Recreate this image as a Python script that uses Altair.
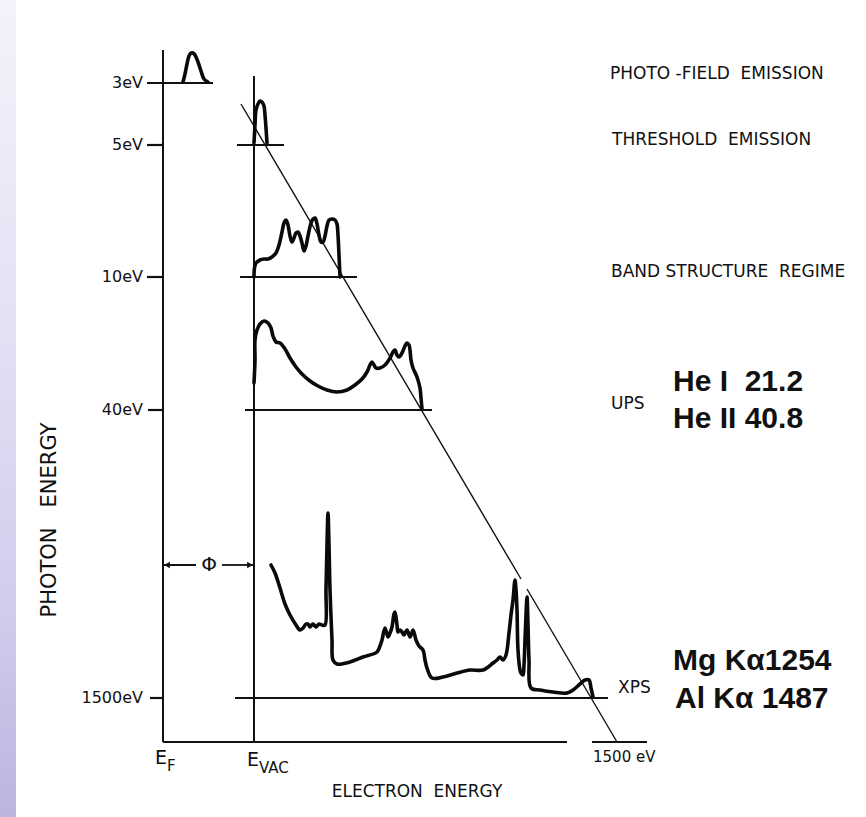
import altair as alt
import pandas as pd

# Diagram canvas units (x to the right, y downward)
W, H = 866, 817
NB = "\u00a0"  # non-breaking space keeps the wide gaps in the labels

# ---- traced spectra ----
pfe_x = [183, 185, 187, 189, 191, 193, 195, 198, 201, 204, 208]
pfe_y = [82, 74, 64, 56, 53, 53, 55, 62, 71, 79, 82]

thr_x = [254, 255, 256, 258, 260, 262, 264, 265, 266, 267]
thr_y = [143, 125, 110, 104, 101, 102, 106, 115, 128, 143]

band_x = [254, 254.5, 256, 260, 264, 268, 272, 276, 279, 282, 284, 286, 288, 290, 292, 294, 296, 298,
          300, 302, 304, 306, 308, 311, 313, 315, 317, 319, 321, 323, 325, 327, 329, 332, 335, 337,
          338, 339, 340]
band_y = [277, 268, 263, 260, 259, 259, 257, 253, 245, 232, 223, 220, 225, 236, 242, 238, 233, 232,
          236, 243, 251, 246, 236, 223, 219, 218, 224, 235, 242, 242, 236, 226, 220, 219, 220, 224,
          235, 255, 277]

ups_x = [254, 255, 255, 257, 260, 264, 268, 271, 273, 276, 280, 285, 290, 296, 302, 310, 318, 327,
         337, 347, 355, 362, 367, 370, 372, 374, 376, 380, 385, 390, 393, 395, 397, 399, 402, 405,
         407, 409, 410, 411, 413, 417, 420, 421, 422]
ups_y = [383, 360, 340, 330, 324, 321, 323, 328, 336, 342, 343, 349, 358, 367, 374, 381, 386, 390,
         392, 390, 385, 379, 372, 365, 362, 365, 368, 368, 365, 358, 352, 350, 355, 357, 353, 346,
         343, 345, 350, 360, 368, 377, 388, 398, 409]

xps_x = [271, 275, 280, 285, 290, 296, 300, 303, 306, 308, 310, 313, 316, 319, 322, 325, 326, 327,
         328, 329, 330, 332, 333, 337, 350, 363, 377, 380, 382, 385, 388, 390, 392, 394, 395, 397,
         398, 400, 402, 404, 407, 410, 413, 416, 419, 423, 425, 427, 432, 443, 457, 470, 483, 493,
         497, 500, 503, 506, 509, 511, 513, 515, 516, 517, 518, 520, 521, 523, 524, 525, 526, 527,
         528, 529, 531, 540, 553, 567, 573, 580, 585, 589, 591, 593]
xps_y = [565, 573, 588, 604, 615, 625, 630, 628, 624, 624, 627, 624, 627, 624, 625, 625, 590, 545,
         513, 545, 590, 640, 660, 664, 662, 657, 652, 646, 640, 628, 637, 633, 627, 614, 612, 625,
         632, 630, 632, 635, 630, 637, 630, 640, 646, 650, 660, 668, 678, 677, 673, 670, 670, 663,
         660, 657, 660, 655, 633, 615, 600, 580, 590, 610, 650, 670, 673, 675, 665, 640, 615, 597,
         625, 660, 688, 690, 692, 693, 690, 684, 680, 680, 688, 697]

curves = {
    "photo-field": (pfe_x, pfe_y),
    "threshold": (thr_x, thr_y),
    "band": (band_x, band_y),
    "ups": (ups_x, ups_y),
    "xps": (xps_x, xps_y),
}

# ---- straight strokes: axes, level ticks, baselines, photon-energy limit ----
axis_x1 = [163, 163, 592, 254]
axis_y1 = [50, 742, 742, 76]
axis_x2 = [163, 567, 647, 254]
axis_y2 = [742, 742, 742, 742]

level_x1 = [147, 147, 147, 148, 150, 237, 240, 245, 235]
level_y1 = [83, 145, 277, 410, 698, 145, 277, 410, 698]
level_x2 = [213, 163, 163, 163, 163, 284, 357, 432, 608]

diag_x1 = [241, 527]
diag_y1 = [104, 589]
diag_x2 = [521, 617]
diag_y2 = [579, 742]

# work function arrow
phi_x1 = [163, 222]
phi_x2 = [196, 254]
phi_y = [565, 565]
phi_head_x = [167, 250]
phi_head_shape = ["triangle-left", "triangle-right"]

# ---- texts ----
level_labels = ["3eV", "5eV", "10eV", "40eV", "1500eV"]
level_label_y = [83, 145, 277, 410, 698]

regime_labels = [
    "PHOTO -FIELD" + NB * 2 + "EMISSION",
    "THRESHOLD" + NB * 2 + "EMISSION",
    "BAND STRUCTURE" + NB * 2 + "REGIME",
    "UPS",
    "XPS",
]
regime_x = [610, 612, 611, 611, 618]
regime_y = [74, 140, 272, 404, 688]

source_labels = ["He I" + NB * 2 + "21.2", "He II 40.8", "Mg K\u03b11254", "Al K\u03b1 1487"]
source_x = [673, 673, 673, 675]
source_y = [382, 419, 661, 699]

xs = alt.Scale(domain=[0, W], nice=False, zero=False)
ys = alt.Scale(domain=[0, H], reverse=True, nice=False, zero=False)

def X(f="x"):
    return alt.X(f"{f}:Q", scale=xs, axis=None)

def Y(f="y"):
    return alt.Y(f"{f}:Q", scale=ys, axis=None)

# left decorative strip
strip = alt.Chart(pd.DataFrame({"x": [0], "x2": [16], "y": [0], "y2": [H]})).mark_rect(
    fill=alt.Gradient(
        gradient="linear",
        stops=[
            alt.GradientStop(color="#f3f3fb", offset=0),
            alt.GradientStop(color="#e3e1f4", offset=0.4),
            alt.GradientStop(color="#d1ccec", offset=0.75),
            alt.GradientStop(color="#bdb4e0", offset=1),
        ],
        x1=0, x2=0, y1=0, y2=1,
    )
).encode(x=X(), x2="x2:Q", y=Y(), y2="y2:Q")

def rules(x1, y1, x2, y2, width):
    df = pd.DataFrame({"x": x1, "y": y1, "x2": x2, "y2": y2})
    return alt.Chart(df).mark_rule(color="#111111", strokeWidth=width).encode(
        x=X(), y=Y(), x2="x2:Q", y2="y2:Q"
    )

axes = rules(axis_x1, axis_y1, axis_x2, axis_y2, 2)
levels = rules(level_x1, level_y1, level_x2, level_y1, 2.2)
diag = rules(diag_x1, diag_y1, diag_x2, diag_y2, 1.4)
phi_line = rules(phi_x1, phi_y, phi_x2, phi_y, 1.8)

phi_heads = alt.Chart(pd.DataFrame({"x": phi_head_x, "y": phi_y, "shape": phi_head_shape})).mark_point(
    filled=True, color="#111111", size=45, opacity=1
).encode(x=X(), y=Y(), shape=alt.Shape("shape:N", scale=None, legend=None))

rows = []
for name, (cx, cy) in curves.items():
    for i, (a, b) in enumerate(zip(cx, cy)):
        rows.append({"curve": name, "i": i, "x": a, "y": b})
spectra = alt.Chart(pd.DataFrame(rows)).mark_line(
    color="#0a0a0a", strokeWidth=3.6, interpolate="catmull-rom", strokeJoin="round", strokeCap="round"
).encode(x=X(), y=Y(), detail="curve:N", order="i:Q")

def texts(df, **kw):
    base = dict(color="#111111", baseline="middle")
    base.update(kw)
    return alt.Chart(df).mark_text(**base).encode(x=X(), y=Y(), text="label:N")

SMALL = "DejaVu Sans"

t_levels = texts(pd.DataFrame({"x": [143] * 5, "y": level_label_y, "label": level_labels}),
                 align="right", font=SMALL, fontSize=16)
t_regimes = texts(pd.DataFrame({"x": regime_x, "y": regime_y, "label": regime_labels}),
                  align="left", font=SMALL, fontSize=17)
t_sources = texts(pd.DataFrame({"x": source_x, "y": source_y, "label": source_labels}),
                  align="left", font="Liberation Sans, Arial, sans-serif", fontSize=30, fontWeight="bold")
t_ylab = texts(pd.DataFrame({"x": [50], "y": [520], "label": ["PHOTON" + NB * 3 + "ENERGY"]}),
               align="center", font=SMALL, fontSize=21, angle=270)
t_xlab = texts(pd.DataFrame({"x": [417], "y": [792], "label": ["ELECTRON" + NB * 2 + "ENERGY"]}),
               align="center", font=SMALL, fontSize=17)
t_end = texts(pd.DataFrame({"x": [593], "y": [757], "label": ["1500 eV"]}),
              align="left", font=SMALL, fontSize=15)
t_E = texts(pd.DataFrame({"x": [155, 247], "y": [758, 760], "label": ["E", "E"]}),
            align="left", font=SMALL, fontSize=19)
t_sub = texts(pd.DataFrame({"x": [167, 259], "y": [766, 768], "label": ["F", "VAC"]}),
              align="left", font=SMALL, fontSize=15)
t_phi = texts(pd.DataFrame({"x": [209], "y": [565], "label": ["\u03a6"]}),
              align="center", font=SMALL, fontSize=20)

chart = alt.layer(
    strip, axes, levels, diag, phi_line, phi_heads, spectra,
    t_levels, t_regimes, t_sources, t_ylab, t_xlab, t_end, t_E, t_sub, t_phi,
).properties(
    width=W, height=H, autosize="none", padding=0, background="white"
).configure_view(stroke=None)

chart.save("out.html", embed_options={"renderer": "svg", "actions": False})
